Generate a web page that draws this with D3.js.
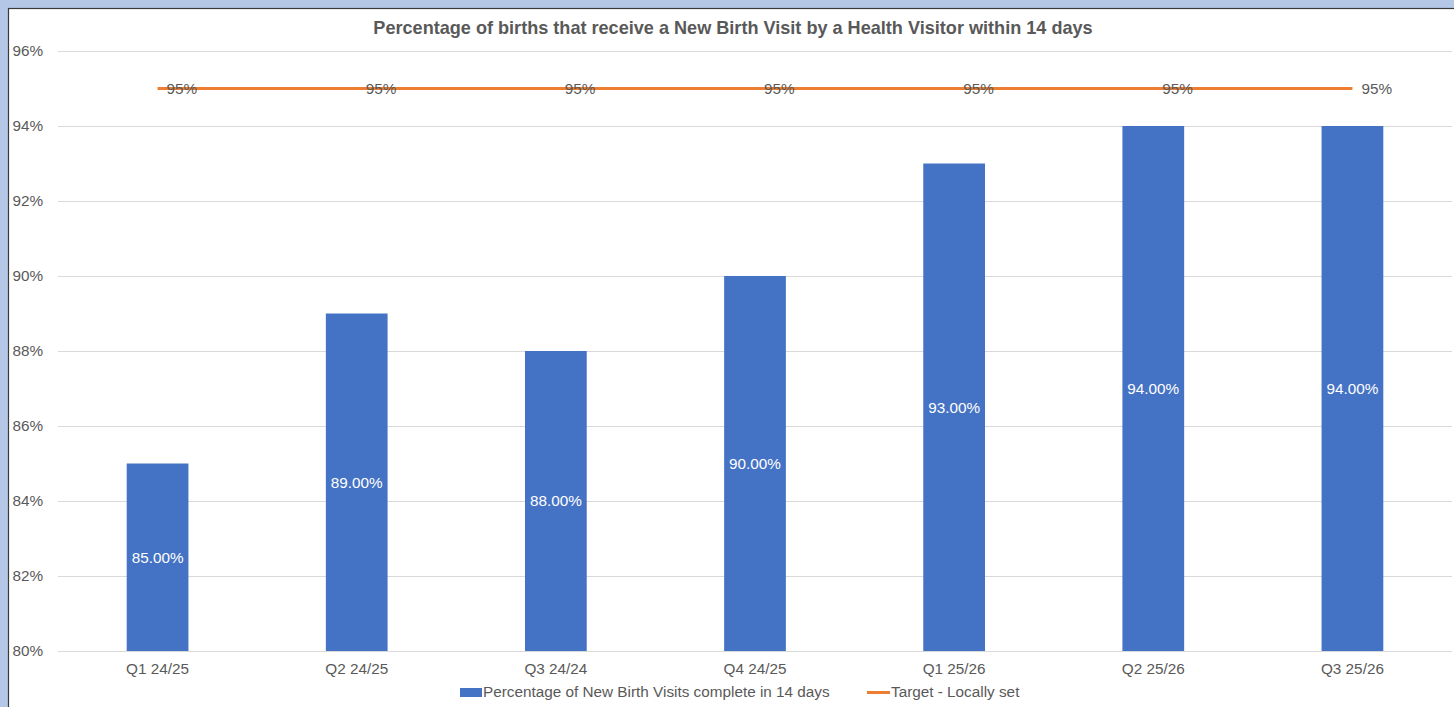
<!DOCTYPE html>
<html>
<head>
<meta charset="utf-8">
<script src="https://cdn.jsdelivr.net/npm/d3@7"></script>
<style>
  html, body { margin: 0; padding: 0; background: #b4c7e7; }
  svg { display: block; font-family: "Liberation Sans", Arial, sans-serif; }
</style>
</head>
<body>
<svg id="chart" width="1454" height="707"></svg>
<script>
// Quarterly new birth visit completion rates and the locally set target
const categories = ["Q1 24/25", "Q2 24/25", "Q3 24/24", "Q4 24/25", "Q1 25/26", "Q2 25/26", "Q3 25/26"];
const visitRates = [85, 89, 88, 90, 93, 94, 94];
const targetRates = [95, 95, 95, 95, 95, 95, 95];
const yTicks = [80, 82, 84, 86, 88, 90, 92, 94, 96];
const titleText = "Percentage of births that receive a New Birth Visit by a Health Visitor within 14 days";
const barSeriesName = "Percentage of New Birth Visits complete in 14 days";
const lineSeriesName = "Target - Locally set";

const W = 1454, H = 707;
const svg = d3.select("#chart");
const textColor = "#595959";
const fs = "15.3px";

// chart panel
svg.append("rect").attr("x", 8.5).attr("y", 8.5).attr("width", W).attr("height", H)
  .attr("fill", "#ffffff").attr("stroke", "#3a3a3a").attr("stroke-width", 1.2);

const plot = { left: 58, right: 1452, top: 51, bottom: 651 };

const x = d3.scaleBand().domain(categories).range([plot.left, plot.right]).paddingInner(0.69).paddingOuter(0.345);
const y = d3.scaleLinear().domain([80, 96]).range([plot.bottom, plot.top]);

// gridlines
svg.append("g").selectAll("line").data(yTicks).join("line")
  .attr("x1", plot.left).attr("x2", plot.right)
  .attr("y1", d => y(d) + 0.5).attr("y2", d => y(d) + 0.5)
  .attr("stroke", "#d9d9d9").attr("stroke-width", 1);

// y axis labels
const yAxis = d3.axisLeft(y).tickValues(yTicks).tickFormat(d => d + "%").tickSize(0).tickPadding(0);
const yg = svg.append("g").attr("transform", `translate(${plot.left - 15},0)`).call(yAxis);
yg.select(".domain").remove();
yg.selectAll("text").attr("fill", textColor).style("font-size", fs);

// x axis labels
const xAxis = d3.axisBottom(x).tickSize(0).tickPadding(0);
const xg = svg.append("g").attr("transform", `translate(0,${plot.bottom + 12})`).call(xAxis);
xg.select(".domain").remove();
xg.selectAll("text").attr("fill", textColor).style("font-size", fs);

// bars
svg.append("g").selectAll("rect").data(visitRates).join("rect")
  .attr("x", (d, i) => x(categories[i]))
  .attr("width", x.bandwidth())
  .attr("y", d => y(d))
  .attr("height", d => y(80) - y(d))
  .attr("fill", "#4472c4");

// bar value labels
svg.append("g").selectAll("text").data(visitRates).join("text")
  .attr("x", (d, i) => x(categories[i]) + x.bandwidth() / 2)
  .attr("y", d => (y(d) + y(80)) / 2)
  .attr("dy", "0.35em")
  .attr("text-anchor", "middle")
  .attr("fill", "#ffffff")
  .style("font-size", fs)
  .text(d => d.toFixed(2) + "%");

// target line
const cx = (d, i) => x(categories[i]) + x.bandwidth() / 2;
const line = d3.line().x(cx).y(d => y(d));
svg.append("path").datum(targetRates).attr("d", line)
  .attr("fill", "none").attr("stroke", "#ed7d31").attr("stroke-width", 3);

// target labels
svg.append("g").selectAll("text").data(targetRates).join("text")
  .attr("x", (d, i) => cx(d, i) + 9)
  .attr("y", d => y(d))
  .attr("dy", "0.35em")
  .attr("fill", textColor)
  .style("font-size", fs)
  .text(d => d + "%");

// title
svg.append("text").attr("x", 733).attr("y", 34)
  .attr("text-anchor", "middle").attr("fill", textColor)
  .style("font-size", "18.1px").style("font-weight", "bold")
  .text(titleText);

// legend
const lg = svg.append("g");
lg.append("rect").attr("x", 460).attr("y", 688).attr("width", 22).attr("height", 9).attr("fill", "#4472c4");
lg.append("text").attr("x", 483).attr("y", 692).attr("dy", "0.35em").attr("fill", textColor)
  .style("font-size", fs).text(barSeriesName);
lg.append("line").attr("x1", 867).attr("x2", 890).attr("y1", 692.5).attr("y2", 692.5)
  .attr("stroke", "#ed7d31").attr("stroke-width", 3);
lg.append("text").attr("x", 891).attr("y", 692).attr("dy", "0.35em").attr("fill", textColor)
  .style("font-size", fs).text(lineSeriesName);
</script>
</body>
</html>
